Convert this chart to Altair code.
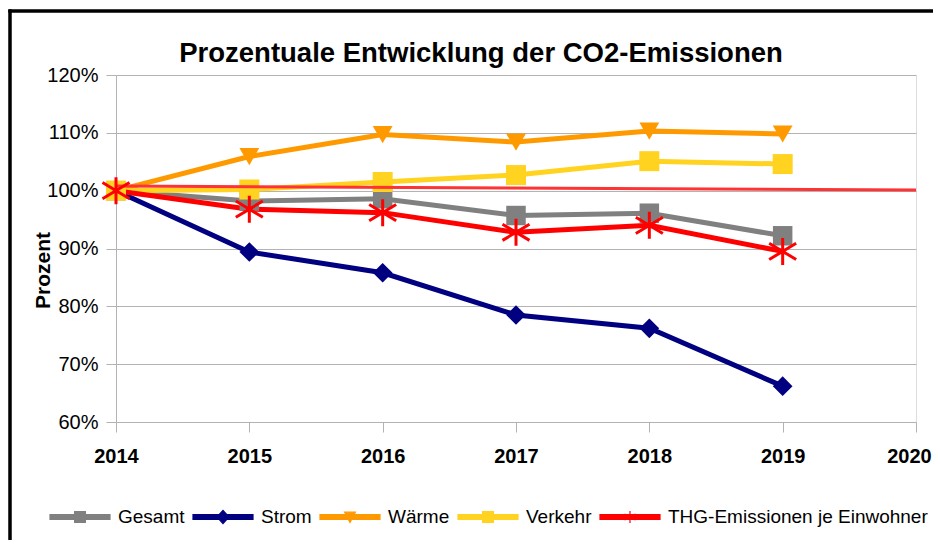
import altair as alt
import pandas as pd

# ---- data ----
years = [2014, 2015, 2016, 2017, 2018, 2019]
gesamt = [100.0, 98.2, 98.6, 95.7, 96.1, 92.2]
strom = [100.0, 89.4, 85.8, 78.5, 76.2, 66.2]
waerme = [100.0, 105.9, 109.7, 108.4, 110.3, 109.8]
verkehr = [100.0, 100.2, 101.5, 102.7, 105.1, 104.6]
thg = [100.0, 96.8, 96.2, 92.8, 94.0, 89.5]

trend_years = [2014, 2020]
trend_values = [100.8, 100.1]

series_names = ["Gesamt", "Strom", "Wärme", "Verkehr", "THG-Emissionen je Einwohner"]
series_colors = ["#808080", "#000080", "#ff9900", "#ffd320", "#ff0000"]
y_ticks = [60, 70, 80, 90, 100, 110, 120]
x_ticks = [2014, 2015, 2016, 2017, 2018, 2019, 2020]

rows = []
for name, vals in zip(series_names, [gesamt, strom, waerme, verkehr, thg]):
    for yr, v in zip(years, vals):
        rows.append({"Jahr": yr, "Wert": v, "Reihe": name})
df = pd.DataFrame(rows)
df_trend = pd.DataFrame({"Jahr": trend_years, "Wert": trend_values})

FONT = "Liberation Sans"
GRID = "#b3b3b3"

x_enc = alt.X("Jahr:Q", scale=alt.Scale(domain=[2014, 2020], nice=False),
              axis=alt.Axis(values=x_ticks, format="d", title=None, grid=False,
                            labelFlush=False,
                            labelOffset=alt.ExprRef(expr="datum.value == 2020 ? -7 : 0"),
                            labelFont=FONT, labelFontWeight="bold", labelFontSize=20,
                            labelColor="black", labelPadding=14, tickSize=10,
                            tickColor=GRID, domainColor=GRID))
y_enc = alt.Y("Wert:Q", scale=alt.Scale(domain=[60, 120], nice=False, zero=False),
              axis=alt.Axis(values=y_ticks, labelExpr="datum.value + '%'",
                            labelFlush=False,
                            title="Prozent", titleFont=FONT, titleFontSize=21,
                            titleFontWeight="bold", titleColor="black",
                            titleX=-67, titleY=195, titleAngle=270,
                            titleBaseline="alphabetic", titleAlign="center",
                            labelFont=FONT, labelFontSize=20, labelColor="black",
                            labelPadding=8, tickSize=10, tickColor=GRID,
                            domainColor=GRID, gridColor=GRID))

color_scale = alt.Scale(domain=series_names, range=series_colors)

# legend symbols: line + marker paths (unit = sqrt(size)/2 = 12px)
L = "M-2.5,-0.2L2.5,-0.2L2.5,0.2L-2.5,0.2Z"
legend_paths = [
    L + "M-0.45,-0.45L0.45,-0.45L0.45,0.45L-0.45,0.45Z",
    L + "M-0.5,0L0,-0.55L0.5,0L0,0.55Z",
    L + "M-0.45,-0.4L0.45,-0.4L0,0.45Z",
    L + "M-0.45,-0.45L0.45,-0.45L0.45,0.45L-0.45,0.45Z",
    L + "M0,-0.5L0,0.5M-0.45,-0.25L0.45,0.25M-0.45,0.25L0.45,-0.25",
]
names_js = "[" + ",".join("'" + n + "'" for n in series_names) + "]"
paths_js = "[" + ",".join("'" + p + "'" for p in legend_paths) + "]"
colors_js = "[" + ",".join("'" + c + "'" for c in series_colors) + "]"
idx = "indexof(" + names_js + ", datum.value)"

legend = alt.Legend(
    orient="none", legendX=-49, legendY=429, direction="horizontal", columns=5,
    title=None, symbolSize=576, labelOffset=25, columnPadding=5, padding=0,
    labelFont=FONT, labelFontSize=19, labelColor="black", labelLimit=500,
    symbolType=alt.ExprRef(expr=paths_js + "[" + idx + "]"),
    symbolFillColor=alt.ExprRef(expr=colors_js + "[" + idx + "]"),
    symbolStrokeColor=alt.ExprRef(expr=colors_js + "[" + idx + "]"),
    symbolStrokeWidth=1.2,
    symbolOpacity=1,
)

base = alt.Chart(df)

lines = base.mark_line(strokeWidth=5).encode(
    x=x_enc, y=y_enc,
    color=alt.Color("Reihe:N", scale=color_scale, sort=series_names, legend=legend),
    order=alt.Order("Jahr:Q"),
)

shape_scale = alt.Scale(domain=series_names[:4],
                        range=["square", "diamond", "triangle-down", "square"])
size_scale = alt.Scale(domain=series_names[:4], range=[380, 400, 484, 380])

pts = base.transform_filter(
    alt.FieldOneOfPredicate(field="Reihe", oneOf=series_names[:4])
).mark_point(filled=True, opacity=1).encode(
    x="Jahr:Q", y="Wert:Q",
    color=alt.Color("Reihe:N", scale=color_scale, legend=None),
    shape=alt.Shape("Reihe:N", scale=shape_scale, legend=None),
    size=alt.Size("Reihe:N", scale=size_scale, legend=None),
)

trend = alt.Chart(df_trend).mark_line(strokeWidth=3, color="#ff3333").encode(
    x="Jahr:Q", y="Wert:Q")

stars = base.transform_filter(
    alt.datum.Reihe == series_names[4]
).mark_point(filled=False, opacity=1, strokeWidth=3, color="#ff0000",
             shape="M0,-1L0,1M-1,-0.6L1,0.6M-1,0.6L1,-0.6", size=729).encode(
    x="Jahr:Q", y="Wert:Q")

frame_top = alt.Chart(df_trend).mark_rule(stroke="black", strokeWidth=3).encode(
    x=alt.value(-107.5), x2=alt.value(830), y=alt.value(-64))
frame_left = alt.Chart(df_trend).mark_rule(stroke="black", strokeWidth=3).encode(
    x=alt.value(-106), y=alt.value(-65.5), y2=alt.value(470))

chart = alt.layer(lines, pts, trend, stars, frame_top, frame_left).resolve_scale(
    shape="independent", size="independent"
).properties(
    width=800, height=347,
    autosize=alt.AutoSizeParams(type="none"),
    padding={"left": 108, "top": 67, "right": 17, "bottom": 118},
    title=alt.TitleParams("Prozentuale Entwicklung der CO2-Emissionen",
                          font=FONT, fontSize=27.5, fontWeight="bold", color="black",
                          anchor="middle", frame="group", dx=-35, offset=-59),
).configure_view(stroke=GRID, strokeWidth=1).configure(background="white")

chart.save("out.html", embed_options={"renderer": "svg", "actions": False})
